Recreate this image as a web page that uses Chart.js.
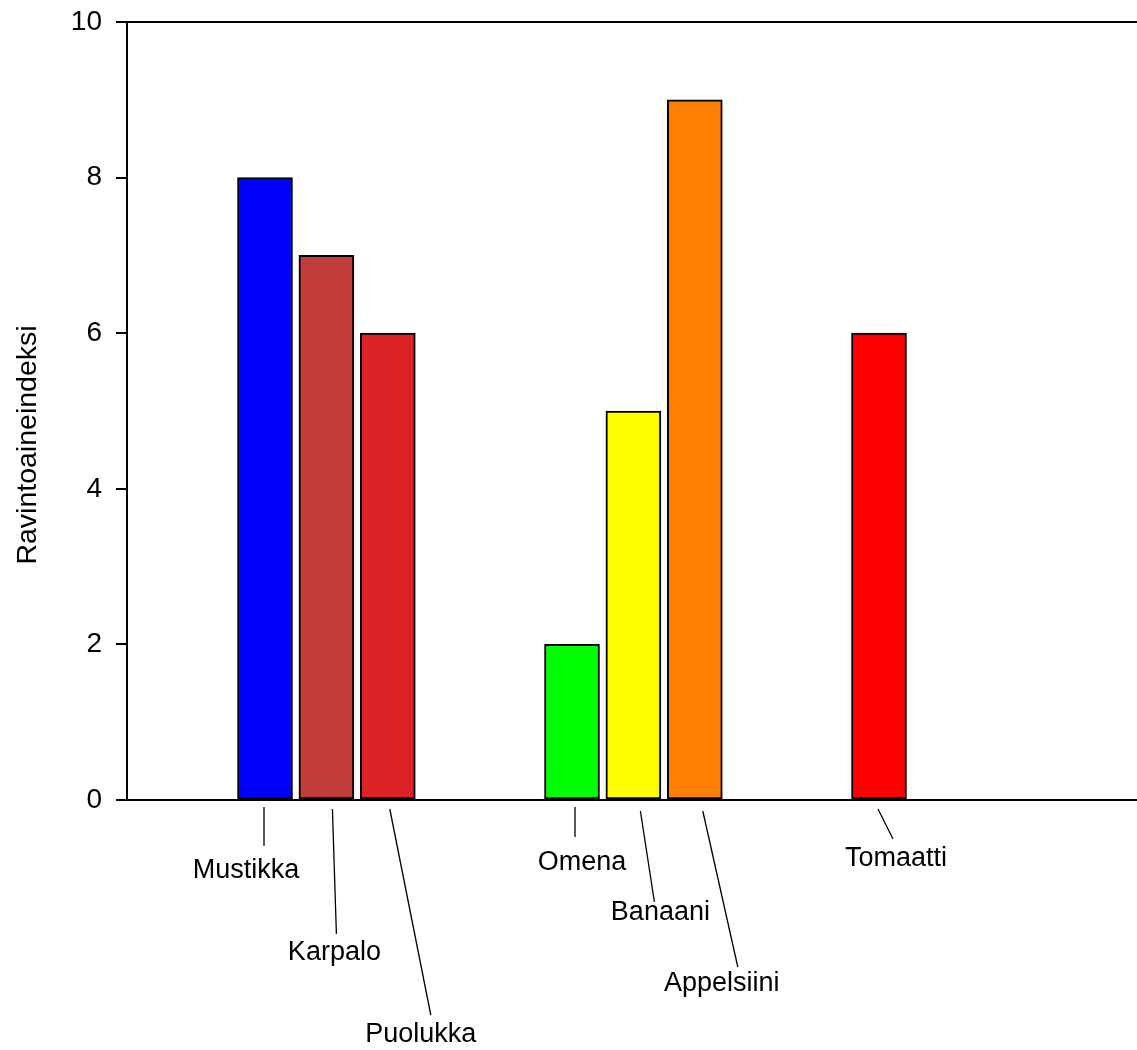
<!DOCTYPE html>
<html lang="fi">
<head>
<meta charset="utf-8">
<title>Ravintoaineindeksi</title>
<script src="https://cdn.jsdelivr.net/npm/chart.js@4.4.1/dist/chart.umd.min.js"></script>
<style>
    html, body { margin: 0; padding: 0; background: #ffffff; }
    #wrap { width: 1137px; height: 1050px; }
</style>
</head>
<body>
<div id="wrap"><canvas id="fruitChart" width="1137" height="1050"></canvas></div>
<script>
// ============================================
// Data
// ============================================
const fruits = ['Mustikka', 'Karpalo', 'Puolukka', 'Omena', 'Banaani', 'Appelsiini', 'Tomaatti'];
const fruitSlots = [1, 2, 3, 6, 7, 8, 11];
const indexValues = [8, 7, 6, 2, 5, 9, 6];
const yTicks = [0, 2, 4, 6, 8, 10];
const yTitle = 'Ravintoaineindeksi';

// bar colours
const fruitColors = ['#0000ff', '#c33c3c', '#dc2328', '#00ff00', '#ffff00', '#ff8000', '#ff0000'];

// leader line + label offsets, relative to bar centre / x axis (px)
const labelLayout = [
    { line: [-1, 7, -1, 46],  text: [-19, 78] },
    { line: [6, 9, 10, 134],  text: [8, 160] },
    { line: [2, 9, 43, 215],  text: [33, 242] },
    { line: [3, 7, 3, 37],    text: [10, 70] },
    { line: [7, 11, 21, 102], text: [27, 120] },
    { line: [8, 11, 43, 167], text: [27, 191] },
    { line: [-1, 9, 14, 39],  text: [17, 66] }
];

const FONT = '"Liberation Sans", Arial, sans-serif';

// ============================================
// Plugins
// ============================================
// category labels under the axis, with thin leader lines
const leaderLabels = {
    id: 'leaderLabels',
    afterDraw(chart) {
        const ctx = chart.ctx;
        const x = chart.scales.x;
        const base = chart.chartArea.bottom;
        ctx.save();
        ctx.strokeStyle = '#000';
        ctx.lineWidth = 1.3;
        ctx.fillStyle = '#000';
        ctx.font = '27px ' + FONT;
        ctx.textAlign = 'center';
        ctx.textBaseline = 'alphabetic';
        fruits.forEach(function(name, i) {
            const cx = x.getPixelForValue(fruitSlots[i]);
            const l = labelLayout[i].line;
            const t = labelLayout[i].text;
            ctx.beginPath();
            ctx.moveTo(cx + l[0], base + l[1]);
            ctx.lineTo(cx + l[2], base + l[3]);
            ctx.stroke();
            ctx.fillText(name, cx + t[0], base + t[1]);
        });
        ctx.restore();
    }
};

// y title sits a bit below the axis middle in the original
const sideTitle = {
    id: 'sideTitle',
    afterDraw(chart) {
        const ctx = chart.ctx;
        ctx.save();
        ctx.translate(36, 445);
        ctx.rotate(-Math.PI / 2);
        ctx.font = '28.5px ' + FONT;
        ctx.fillStyle = '#000';
        ctx.textAlign = 'center';
        ctx.textBaseline = 'alphabetic';
        ctx.fillText(yTitle, 0, 0);
        ctx.restore();
    }
};

// ============================================
// Chart
// ============================================
function initChart() {
    const ctx = document.getElementById('fruitChart');

    new Chart(ctx.getContext('2d'), {
        type: 'bar',
        data: {
            datasets: [{
                data: fruits.map((f, i) => ({ x: fruitSlots[i], y: indexValues[i] })),
                backgroundColor: fruitColors,
                borderColor: '#000',
                borderWidth: 2,
                borderSkipped: false,
                barThickness: 55
            }]
        },
        options: {
            responsive: false,
            animation: false,
            layout: { padding: { top: 22, right: 0, bottom: 0, left: 0 } },
            plugins: {
                legend: { display: false },
                tooltip: { enabled: false }
            },
            scales: {
                x: {
                    type: 'linear',
                    offset: false,
                    min: -1.2476,
                    max: 15.202,
                    ticks: { display: false },
                    grid: { display: false },
                    border: { display: true, color: '#000', width: 2 },
                    afterFit: function(scale) { scale.height = 250; }
                },
                y: {
                    min: 0,
                    max: 10,
                    afterBuildTicks: function(scale) {
                        scale.ticks = yTicks.map(v => ({ value: v }));
                    },
                    ticks: {
                        color: '#000',
                        font: { family: FONT, size: 28 },
                        padding: 14
                    },
                    grid: {
                        drawOnChartArea: true,
                        color: c => (c.tick && c.tick.value === 10) ? '#000' : 'rgba(0,0,0,0)',
                        tickColor: '#000',
                        tickLength: 11,
                        lineWidth: 2
                    },
                    border: { display: true, color: '#000', width: 2 },
                    afterFit: function(scale) {
                        scale.width = 127;
                        scale.paddingTop = 0;
                        scale.paddingBottom = 0;
                    }
                }
            }
        },
        plugins: [leaderLabels, sideTitle]
    });
}

document.addEventListener('DOMContentLoaded', function() {
    initChart();
});
</script>
</body>
</html>
